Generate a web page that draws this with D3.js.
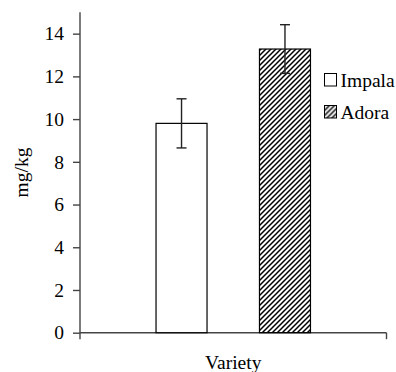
<!DOCTYPE html>
<html>
<head>
<meta charset="utf-8">
<script src="https://cdn.jsdelivr.net/npm/d3@7"></script>
<style>
  body { margin: 0; background: #fff; }
  svg text { font-family: "Liberation Serif", "DejaVu Serif", serif !important; fill: #000; }
</style>
</head>
<body>
<svg id="chart" width="396" height="372"></svg>
<script>
// data
var varieties = ["Impala", "Adora"];
var means = [9.8, 13.28];
var errors = [1.15, 1.14];
var yTicks = [0, 2, 4, 6, 8, 10, 12, 14];

var svg = d3.select("#chart");
var fontSize = 19.5;
var serif = "'Liberation Serif', serif";

var plotLeft = 80, plotRight = 386.5, plotTop = 12.3, plotBottom = 332.7;

// one category ("Variety"), two series inside it
var xScale = d3.scaleBand()
    .domain(varieties)
    .range([plotLeft, plotRight])
    .paddingInner(0.507)
    .paddingOuter(0.735);

var yScale = d3.scaleLinear().domain([0, 15]).range([plotBottom, plotTop]);

// hatch pattern
var defs = svg.append("defs");
defs.append("pattern")
    .attr("id", "hatch")
    .attr("patternUnits", "userSpaceOnUse")
    .attr("width", 5).attr("height", 5)
    .append("path")
    .attr("d", "M-1,1 l2,-2 M0,5 l5,-5 M4,6 l2,-2")
    .attr("stroke", "#000")
    .attr("stroke-width", 1.5);

var fills = { "Impala": "#fff", "Adora": "url(#hatch)" };

// y axis
var yAxis = svg.append("g")
    .attr("transform", "translate(" + plotLeft + ",0)")
    .attr("font-family", serif)
    .call(d3.axisLeft(yScale).tickValues(yTicks).tickSize(7).tickPadding(9).tickSizeOuter(0));
yAxis.attr("font-family", serif);
yAxis.select(".domain").remove();
yAxis.selectAll(".tick line").attr("stroke", "#444").attr("stroke-width", 1.4);
yAxis.selectAll(".tick text")
    .style("font-family", serif)
    .style("font-size", fontSize + "px")
    .attr("fill", "#000");

// axis lines
svg.append("line")
    .attr("x1", plotLeft).attr("x2", plotLeft)
    .attr("y1", yScale(15)).attr("y2", plotBottom + 6.5)
    .attr("stroke", "#444").attr("stroke-width", 1.4);
svg.append("line")
    .attr("x1", plotLeft).attr("x2", plotRight)
    .attr("y1", plotBottom).attr("y2", plotBottom)
    .attr("stroke", "#444").attr("stroke-width", 1.4);
svg.append("line")
    .attr("x1", plotRight).attr("x2", plotRight)
    .attr("y1", plotBottom).attr("y2", plotBottom + 6.5)
    .attr("stroke", "#444").attr("stroke-width", 1.4);

// bars
svg.selectAll(".bar")
    .data(varieties)
    .enter().append("rect")
    .attr("class", "bar")
    .attr("x", function (d) { return xScale(d); })
    .attr("y", function (d, i) { return yScale(means[i]); })
    .attr("width", xScale.bandwidth())
    .attr("height", function (d, i) { return plotBottom - yScale(means[i]); })
    .attr("fill", function (d) { return fills[d]; })
    .attr("stroke", "#000")
    .attr("stroke-width", 1.2);

// error bars
var err = svg.selectAll(".err")
    .data(varieties)
    .enter().append("g")
    .attr("class", "err")
    .attr("stroke", "#222")
    .attr("stroke-width", 1.4);
var cx = function (d) { return xScale(d) + xScale.bandwidth() / 2; };
err.append("line")
    .attr("x1", cx).attr("x2", cx)
    .attr("y1", function (d, i) { return yScale(means[i] + errors[i]); })
    .attr("y2", function (d, i) { return yScale(means[i] - errors[i]); });
[1, -1].forEach(function (s) {
    err.append("line")
        .attr("x1", function (d) { return cx(d) - 5; })
        .attr("x2", function (d) { return cx(d) + 5; })
        .attr("y1", function (d, i) { return yScale(means[i] + s * errors[i]); })
        .attr("y2", function (d, i) { return yScale(means[i] + s * errors[i]); });
});

// axis titles
svg.append("text")
    .attr("transform", "translate(28," + ((plotTop + plotBottom) / 2) + ") rotate(-90)")
    .attr("text-anchor", "middle")
    .style("font-family", serif)
    .style("font-size", fontSize + "px")
    .text("mg/kg");
svg.append("text")
    .attr("x", (plotLeft + plotRight) / 2)
    .attr("y", 369)
    .attr("text-anchor", "middle")
    .style("font-family", serif)
    .style("font-size", fontSize + "px")
    .text("Variety");

// legend
var legend = svg.selectAll(".legend")
    .data(varieties)
    .enter().append("g")
    .attr("class", "legend")
    .attr("transform", function (d, i) { return "translate(324.5," + (73.5 + i * 32) + ")"; });
legend.append("rect")
    .attr("width", 12).attr("height", 12.5)
    .attr("fill", function (d) { return fills[d]; })
    .attr("stroke", "#000")
    .attr("stroke-width", 1);
legend.append("text")
    .attr("x", 16)
    .attr("y", 13)
    .style("font-family", serif)
    .style("font-size", fontSize + "px")
    .text(function (d) { return d; });
</script>
</body>
</html>
